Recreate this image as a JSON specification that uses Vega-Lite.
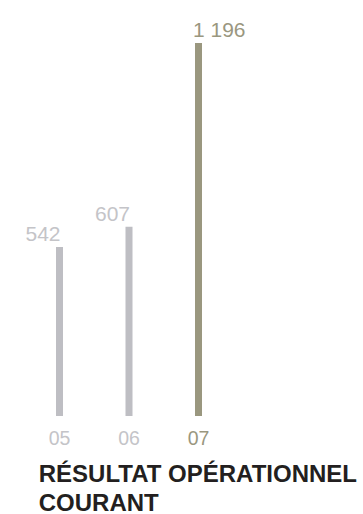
{
  "$schema": "https://vega.github.io/schema/vega-lite/v6.json",
  "autosize": "none",
  "padding": {"left": 24.75, "top": 43, "right": 129.75, "bottom": 98},
  "width": 208.5,
  "height": 373,
  "background": "white",
  "config": {"view": {"stroke": null}, "font": "Liberation Sans"},
  "data": {"values": [
    {"year": "05", "value": 542, "label": "542"},
    {"year": "06", "value": 607, "label": "607"},
    {"year": "07", "value": 1196, "label": "1 196"}
  ]},
  "title": {
    "text": ["RÉSULTAT OPÉRATIONNEL", "COURANT"],
    "orient": "bottom",
    "anchor": "start",
    "dx": 14,
    "offset": 15,
    "font": "Liberation Sans",
    "fontSize": 24,
    "fontWeight": "bold",
    "lineHeight": 29,
    "color": "#231f20",
    "baseline": "top"
  },
  "encoding": {
    "x": {
      "field": "year", "type": "nominal", "sort": null,
      "scale": {"paddingInner": 0, "paddingOuter": 0},
      "axis": {
        "title": null, "domain": false, "ticks": false, "labelAngle": 0,
        "labelFontSize": 19.5, "labelPadding": 13, "labelFont": "Liberation Sans",
        "labelColor": {"condition": {"test": "datum.value == '07'", "value": "#9a977f"}, "value": "#c4c4c8"}
      }
    },
    "y": {
      "field": "value", "type": "quantitative",
      "scale": {"domain": [0, 1196], "nice": false},
      "axis": null
    }
  },
  "layer": [
    {
      "mark": {"type": "bar", "width": 7},
      "encoding": {
        "color": {
          "condition": {"test": "datum.year == '07'", "value": "#9a977f"},
          "value": "#bebec3"
        }
      }
    },
    {
      "transform": [{"filter": "datum.year != '07'"}],
      "mark": {"type": "text", "align": "right", "baseline": "alphabetic", "dx": 1, "dy": -6, "fontSize": 21, "color": "#c4c4c8"},
      "encoding": {"text": {"field": "label"}}
    },
    {
      "transform": [{"filter": "datum.year == '07'"}],
      "mark": {"type": "text", "align": "left", "baseline": "alphabetic", "dx": -5.5, "dy": -6, "fontSize": 21, "color": "#9a977f"},
      "encoding": {"text": {"field": "label"}}
    }
  ]
}
